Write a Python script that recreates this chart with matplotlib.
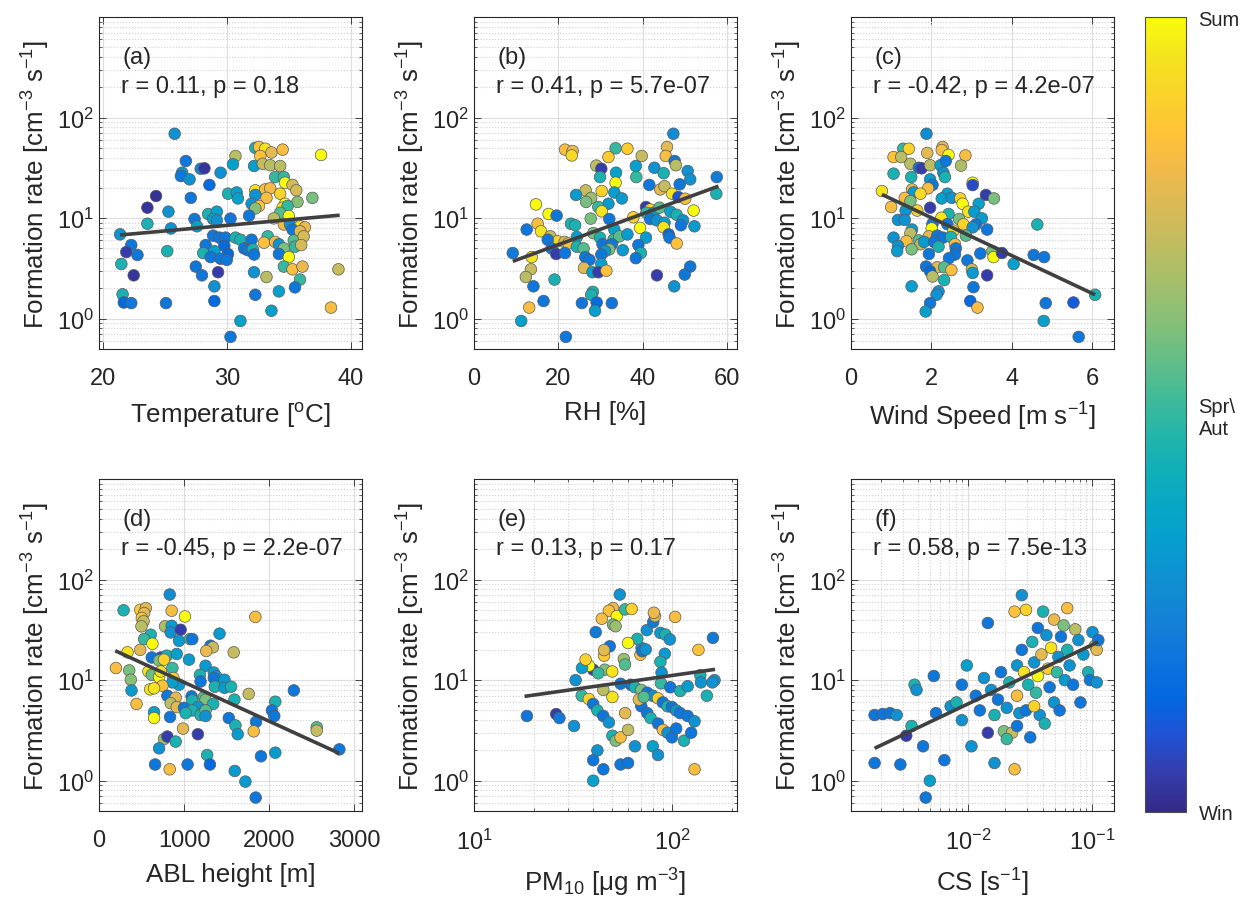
import numpy as np
import matplotlib
matplotlib.use('Agg')
import matplotlib.pyplot as plt
from matplotlib.colors import LinearSegmentedColormap, Normalize
from matplotlib.ticker import LogLocator, NullFormatter, FixedLocator
import matplotlib.cm as cm

plt.rcParams['font.family'] = ['Liberation Sans', 'DejaVu Sans']
plt.rcParams['mathtext.fontset'] = 'custom'
plt.rcParams['mathtext.rm'] = 'Liberation Sans'
plt.rcParams['mathtext.it'] = 'Liberation Sans:italic'
plt.rcParams['mathtext.default'] = 'regular'

# ---------------- data ----------------
# (a) Temperature
temp = [25.8,32.3,32.6,33.1,33.6,34.5,37.6,30.7,32.7,26.7,
        30.5,32.2,32.9,33.5,34.3,27.9,28.2,26.4,26.3,27.0,
        29.5,33.9,34.6,28.6,34.7,35.3,32.3,33.1,33.5,35.6,
        34.3,30.1,30.8,30.9,32.3,24.3,27.1,33.2,36.9,32.0,
        32.6,32.3,35.7,34.7,23.6,34.5,34.9,25.3,28.5,29.2,
        34.3,35.0,31.8,27.4,28.9,29.2,30.3,33.8,23.6,27.6,
        34.6,35.1,35.9,36.3,25.5,35.3,35.9,21.4,28.9,29.4,
        29.9,30.7,31.1,32.0,33.3,35.4,36.2,22.3,28.3,29.8,
        31.4,31.7,32.1,33.0,33.9,34.2,34.6,35.5,36.0,21.9,
        22.8,25.2,28.1,29.0,30.1,32.2,34.2,35.0,28.7,29.5,
        30.0,21.5,27.5,34.6,35.3,36.1,39.0,32.2,22.5,28.0,
        29.3,33.2,35.9,29.0,34.2,35.5,21.6,32.3,21.7,22.3,
        25.1,29.0,33.6,38.4,31.1,30.3]
J_temp = [69,50,51,49,45,48,42.5,41.5,41.5,37,
          34.3,33,34.7,33.6,33,31,31.3,28.3,26.2,24.3,
          28.3,25.6,25.6,21.4,22.5,21.4,18.9,19.3,19.8,18.9,
          17.5,17.5,18.0,15.7,17.0,16.6,15.9,15.9,15.9,13.9,
          13.2,12.5,14.5,13.9,12.7,12.7,13.2,11.6,11.0,11.6,
          11.3,10.5,10.6,9.8,9.8,9.5,9.9,9.95,8.8,8.3,
          8.65,8.65,8.3,8.1,7.9,7.7,7.4,6.9,6.7,6.4,
          6.4,6.4,6.1,6.1,6.6,6.0,6.6,5.4,5.4,5.3,
          5.0,4.8,4.9,5.7,5.8,5.5,5.0,5.2,5.4,4.6,
          4.3,4.7,4.5,4.7,4.4,4.35,4.4,4.1,4.1,3.95,
          3.85,3.5,3.3,3.3,3.1,3.3,3.1,2.9,2.7,2.7,
          2.9,2.6,2.45,2.1,1.87,2.05,1.75,1.73,1.45,1.43,
          1.43,1.5,1.2,1.29,0.95,0.66]
s_temp = [.3,.45,.85,.95,.78,.83,1,.7,.85,.2,
          .35,.35,.72,.7,.7,.25,.03,.3,.2,.3,
          .3,.5,.5,.15,1,.75,.95,.83,.82,.75,
          .9,.45,.35,.35,.3,.02,.2,.83,.6,.3,
          .85,.62,.62,1,.03,.95,.5,.3,.45,.35,
          .55,1,.2,.2,.35,.3,.2,.7,.45,.35,
          .82,.3,.95,.8,.3,.2,.78,.3,.2,.2,
          .2,.45,.45,.2,.5,.55,.75,.2,.2,.15,
          .2,.2,.45,.85,.82,.3,.6,.5,.75,.05,
          .2,.45,.45,.35,.15,.2,.2,1,.2,.2,
          .2,.45,.2,.5,.83,.8,.73,.3,.03,.2,
          .05,.7,.5,.3,.35,.2,.45,.2,.15,.2,
          .2,.15,.35,.83,.35,.2]

# (b) RH
rh = [47.3,21.6,23.4,23.2,33.6,36.4,45.8,31.9,39.8,45.5,
      47.6,47.9,29.0,30.2,38.4,42.8,45.0,50.7,51.3,57.6,
      33.7,29.9,38.5,33.6,41.6,48.8,44.2,45.2,47.0,48.5,
      50.1,57.5,26.5,30.3,33.3,24.2,27.8,26.6,35.1,31.9,
      14.7,29.5,30.3,17.7,19.6,27.7,32.1,37.8,40.8,41.8,
      40.9,42.6,44.0,46.6,48.1,52.1,41.8,43.4,45.2,49.6,
      49.1,52.3,45.0,39.4,23.0,24.0,12.5,15.1,15.9,33.3,
      28.3,18.1,19.8,21.5,22.4,17.5,24.4,29.9,33.1,34.5,
      36.4,40.8,46.2,46.4,48.1,30.5,32.7,9.2,18.4,19.5,
      21.6,24.4,26.0,32.1,31.1,30.2,35.3,39.0,39.6,38.4,
      13.7,26.4,27.4,30.2,13.5,12.3,26.1,28.1,29.5,31.4,
      19.1,51.3,50.0,43.4,47.5,14.1,28.2,27.8,16.5,25.6,
      29.1,32.7,13.1,28.7,11.2,21.8]
J_rh = [69,48,46.5,42,49.5,49,51,40.5,41.5,41.5,
        37,33.6,33.3,31,33,31.7,28,29.4,24.3,25.6,
        28.3,25.6,25.6,22.5,21.4,21.7,19.3,20.8,17.5,16.2,
        15.6,17.5,18.9,18.6,18.0,17.0,15.9,14.5,15.7,13.9,
        13.7,12.9,11.7,11.0,10.6,9.9,9.8,10.2,12.9,12.2,
        11.3,11.3,12.7,11.6,10.8,11.9,9.8,9.5,9.0,9.5,
        8.5,8.3,8.1,8.0,8.8,8.5,7.7,8.8,7.4,7.7,
        7.1,6.6,5.9,5.8,5.6,6.1,6.5,6.4,6.1,6.6,
        6.9,6.4,6.9,6.4,5.6,5.5,5.5,4.5,5.0,4.4,
        4.5,5.2,5.0,4.9,4.7,4.35,4.8,5.4,4.5,4.0,
        4.1,4.1,3.85,3.5,3.1,2.6,3.2,2.9,2.9,3.0,
        2.45,3.3,2.75,2.7,2.1,2.1,1.85,1.73,1.5,1.43,
        1.45,1.43,1.29,1.2,0.95,0.66]
s_rh = [.28,.83,.8,.92,.5,.88,.78,.88,.72,.83,
        .2,.7,.7,.05,.35,.3,.45,.3,.3,.22,
        .35,.45,.5,1,.2,.2,.78,.72,.95,.1,
        .83,.45,.72,.9,.35,.33,.65,.6,.33,.33,
        1,.5,.95,1,.2,.6,.2,.9,.05,.9,
        .5,.33,.55,.35,.45,1,.2,.3,.35,.3,
        .2,.33,.95,1,.45,.45,.2,.83,.95,.35,
        .6,.72,.9,.75,.83,.2,.35,.45,.5,.55,
        .33,.33,.15,.2,.85,.2,.2,.22,.2,.05,
        .2,.45,.55,.6,.33,.2,.33,.2,.45,.2,
        .95,.2,.2,.35,.72,.7,.78,.35,.05,.85,
        .45,.2,.2,.05,.3,.2,.45,.45,.2,.2,
        .15,.2,.83,.35,.35,.2]

# (c) Wind speed
ws = [1.88,1.30,1.44,1.06,1.25,1.90,2.28,2.26,2.43,2.85,
      1.48,1.69,1.76,1.97,2.23,2.36,2.74,1.06,1.50,2.30,
      2.34,1.97,2.03,3.03,3.03,0.77,1.52,1.92,1.56,1.73,
      1.34,1.48,2.40,2.26,2.51,2.72,3.36,3.56,1.0,1.36,
      1.65,1.97,2.78,2.92,3.18,3.07,2.43,2.69,3.26,1.17,
      1.34,2.25,2.03,2.40,2.80,3.11,1.52,2.01,2.55,3.03,
      3.39,4.64,1.48,1.94,2.15,2.29,2.49,2.86,1.06,1.38,
      1.69,1.73,1.82,2.07,2.18,2.59,2.61,1.17,1.15,1.51,
      1.94,2.59,2.44,3.22,3.52,3.55,3.76,2.90,4.05,4.55,
      4.81,1.87,2.15,2.32,2.50,1.97,2.03,3.01,3.03,3.39,
      2.32,1.51,2.18,2.13,3.05,6.08,1.97,2.97,3.15,1.86,
      4.85,5.54,4.80,5.67]
J_ws = [69,49,49,40.5,40.5,44.5,51,47.5,42.5,42,
        34.7,31.7,31.3,33.6,33.6,37,33.3,27.7,25.6,28.3,
        25.6,24.3,21.4,22.5,21.3,18.6,19.3,19.8,18.0,17.5,
        15.9,14.8,17.5,15.7,15.9,15.7,17.0,15.7,12.9,11.9,
        11.9,12.7,13.9,11.6,13.9,11.6,11.0,9.8,9.95,9.6,
        9.6,10.1,8.8,8.7,8.7,8.65,7.7,7.9,7.5,8.1,
        7.7,8.65,7.1,6.6,6.7,6.4,6.5,6.7,6.4,5.9,
        6.0,5.5,5.8,5.8,5.2,5.5,5.0,5.3,4.7,4.9,
        4.4,4.35,4.0,4.45,4.7,4.1,4.5,3.8,3.5,4.3,
        4.1,3.3,3.25,3.25,3.05,2.96,2.63,3.1,2.85,2.7,
        2.42,2.1,1.87,1.73,2.06,1.73,1.43,1.5,1.29,1.18,
        1.43,1.45,0.95,0.66]
s_ws = [.28,.5,.9,.85,.7,.78,.78,.83,1,.83,
        .7,.2,.05,.7,.35,.2,.68,.45,.45,.3,
        .45,.33,.2,1,.08,.95,.78,.83,.33,.92,
        .83,.6,.35,.35,.3,.9,.05,.6,.83,.3,
        .9,.05,1,.95,.35,.33,.45,.6,.33,.3,
        .3,.95,.2,.2,.9,.2,.33,1,.95,.3,
        .2,.45,.7,.78,.2,.2,.45,.55,.3,.83,
        .55,.72,.33,.2,.45,.83,.2,.3,.33,.6,
        .2,.2,.2,.2,.6,1,.05,.2,.35,.2,
        .2,.2,.78,.55,.83,.15,.7,.72,.33,.05,
        .45,.35,.3,.3,.2,.45,.2,.15,.83,.35,
        .2,.12,.35,.2]

# (d) ABL height
abl = [831,289,484,550,530,503,523,499,854,1010,
       1837,776,854,842,959,1416,608,530,628,940,
       1069,1096,1310,1338,335,484,1260,1583,725,796,
       913,620,706,764,1057,199,355,581,620,862,
       1252,706,725,374,874,1186,1349,1377,1349,1474,
       1193,940,862,745,1361,1474,1552,382,601,647,
       2289,1759,441,803,901,842,913,1088,1096,1232,
       1252,1342,998,1166,1096,1018,1193,1252,1252,1591,
       2071,2032,2059,647,647,835,1525,1603,1630,1845,
       1818,987,764,803,901,1162,2558,2558,706,1271,
       1903,2071,2824,659,831,1041,1303,1595,1720,1841]
J_abl = [71,49.5,50,52,46.5,41.5,38.5,34.3,49,43,
         42.5,34.3,34.7,29.8,31.7,29,28.3,25.6,23,24.6,
         25.6,25.6,22,21.2,18.9,20,19.5,18.9,16.8,17.5,
         18.2,16.8,15.7,16,16,13.2,12.5,12.2,11.3,13.2,
         13.9,10.7,12.2,10.1,10.5,11.3,11.9,10.9,10.5,10.1,
         9.7,9.0,9.5,8.8,8.6,8.4,8.6,7.9,8.1,8.3,
         7.9,7.3,5.8,7.0,6.7,5.9,5.4,6.9,6.3,6.8,
         6.4,5.8,5.3,5.4,5.0,4.7,4.5,5.0,4.4,6.4,
         6.1,5.0,4.4,4.8,4.2,4.3,4.2,3.55,2.9,3.85,
         3.1,3.3,2.6,2.75,2.45,2.9,3.4,3.15,2.1,1.8,
         1.75,1.9,2.05,1.45,1.3,1.45,1.45,1.25,0.98,0.68]
s_abl = [.28,.45,.88,.78,.78,.85,.72,.7,.83,1,
         .83,.68,.33,.3,.05,.33,.45,.5,1,.33,
         .5,.2,.2,.72,.95,.78,.8,.72,.1,.45,
         .35,.2,.6,.9,.33,.83,.6,.95,.58,.5,
         .33,1,.95,.62,.9,.45,.33,.33,.2,.33,
         .2,.33,.35,.85,.45,.33,.45,.33,.95,.95,
         .2,.72,.83,.2,.78,.7,.78,.2,.45,.55,
         .6,.45,.2,.33,.45,.45,.45,.55,.3,.45,
         .45,.2,.2,.35,1,.2,.2,.45,.33,.2,
         .83,.78,.65,.05,.45,.05,.55,.72,.3,.45,
         .2,.33,.2,.2,.83,.2,.15,.33,.33,.2]

# (e) PM10
pm10 = [54.5,50.4,48,44.2,52.6,57.9,62.6,50.4,51.9,41.2,
        48.5,45.4,45.4,40,38.1,45.8,49.9,57.1,57.9,69.3,
        70.2,70.8,73.7,66.8,74.6,80.4,82.1,81,87.4,92.6,
        97.6,103.7,92,87.4,88.6,32.6,42.4,35.1,36.6,60,
        161,136,164,139,
        18.5,26,27,32,35,38,40,42,45,48,
        50,52,55,42,40,45,40,55,60,62,
        65,70,75,80,85,90,95,100,105,110,
        120,130,70,75,78,85,90,95,100,105,
        115,125,130,80,85,60,65,68,72,88,
        98,110,120,140,150,160,58,50,45,55]
J_pm10 = [71,52,49,40.8,43.3,50.5,51,35.7,34.4,30,
          21.7,17.5,19.9,12.7,13.9,12.7,12.2,16.2,14.3,17.9,
          20.9,19.4,20.2,25.7,31.4,37.8,43.3,46.8,29.5,28.4,
          25.4,42.5,18.3,15.2,11.9,10,11.7,13.2,16,23.4,
          26.3,20,10,11.2,
          4.4,4.6,4.2,3.5,7,6.5,5.8,5,4.4,3.8,
          2.8,2.5,2.7,2.0,1.6,1.3,1.0,1.45,1.5,9,
          8.5,8,7.5,7,6.6,6,5.5,5.4,5,4.7,
          4.4,3.9,5.5,4.7,4.2,3.7,3.2,3.0,2.7,3.3,
          2.5,3.0,1.3,2.2,1.8,3.2,2.2,6.4,6.8,9.3,
          8.5,7.8,8.7,9.5,7,9.5,4.7,6.8,8,9.2]
s_pm10 = [.3,.8,.85,.83,1,.5,.9,.6,.65,.22,
          .2,.88,.78,.05,1,.6,.95,.65,.55,.85,
          .33,.2,.3,.45,.3,.22,.75,.8,.33,.45,
          .3,.83,.33,.45,.3,.3,.5,.35,.9,1,
          .22,.85,.3,.45,
          .2,.05,.2,.3,.5,.9,.2,.45,.2,.3,
          .45,.6,.83,.3,.2,.2,.35,.2,.2,.2,
          .45,.6,.2,.3,.9,.2,.45,.2,.3,.2,
          .2,.3,.2,.2,.45,.2,.83,.3,.2,.2,
          .45,.2,.83,.35,.3,.72,.3,.78,.55,.5,
          .2,.45,.33,.3,.45,.3,.78,.95,.7,.2]

# (f) CS
cs = [0.00178,0.00207,0.00237,0.00268,0.00178,0.00287,0.0032,0.00353,0.00373,0.00387,
      0.00437,0.00459,0.00495,0.00533,0.00555,0.00648,0.00728,0.00811,0.00896,0.00896,
      0.00982,0.0107,0.0116,0.0125,0.0135,0.0145,0.0145,0.0154,0.0164,0.0175,
      0.0185,0.0195,0.0206,0.0216,0.0227,0.0238,0.0238,0.0249,0.0249,0.026,
      0.0272,0.0272,0.0283,0.0294,0.0294,0.0306,0.0318,0.033,0.0342,0.0354,
      0.0366,0.0366,0.0379,0.0391,0.0403,0.0416,0.0429,0.0442,0.0455,0.0468,
      0.0494,0.0494,0.0521,0.0535,0.0548,0.0562,0.059,0.0603,0.0631,0.0631,
      0.0659,0.0703,0.0732,0.0776,0.0806,0.0851,0.0929,0.0961,0.1007,0.1055,
      0.109,0.109,0.1122,0.0342,0.0206,0.0249,0.0164]
J_cs = [4.5,4.6,4.7,4.5,1.5,1.45,2.8,3.5,9,8,
        2.2,0.68,1.0,11,4.7,1.6,5.5,6,9,4,
        14,2.2,7,5,10.5,37,3,8,4.5,6.4,
        12,3.1,5.3,9.5,3.0,48,1.3,14,7,4.7,
        70,20,12,50,5,9,2.7,24,15,7.5,
        33,11,4.5,18,48,3.7,28,13,8.5,21,
        40,6,12,17,5,27,35,10,52,20,
        14,9,32,25,6,18,12,10,30,22,
        20,9.5,25,5.5,2.6,3.5,1.5]
s_cs = [.2,.2,.2,.3,.2,.2,.05,.45,.45,.3,
        .2,.2,.35,.2,.2,.2,.3,.45,.2,.3,
        .35,.3,.2,.2,.3,.2,.05,.3,.45,.2,
        .2,.6,.3,.45,.72,.85,.83,.3,.83,.3,
        .3,.2,.95,.9,.2,.45,.2,.45,.3,.5,
        .2,1,.3,.78,.45,.45,.3,.9,.2,.95,
        .8,.3,.5,.3,.2,.2,.6,.33,.83,.45,
        .3,.2,.7,.3,.2,.33,.45,.2,.3,.7,
        .78,.3,.2,.9,.5,.2,.3]

# regression lines (x endpoints, J endpoints)
trend_temp = ([21.4, 39.1], [6.8, 10.7])
trend_rh = ([9.2, 58.0], [3.72, 20.8])
trend_ws = ([0.77, 6.08], [17.2, 1.73])
trend_abl = ([191, 2824], [19.6, 1.87])
trend_pm10 = ([18, 165], [6.9, 12.8])
trend_cs = ([0.00178, 0.112], [2.1, 24])

stats = ['r = 0.11, p = 0.18', 'r = 0.41, p = 5.7e-07', 'r = -0.42, p = 4.2e-07',
         'r = -0.45, p = 2.2e-07', 'r = 0.13, p = 0.17', 'r = 0.58, p = 7.5e-13']
panel_tags = ['(a)', '(b)', '(c)', '(d)', '(e)', '(f)']
xlabels = ['Temperature [$^{o}$C]', 'RH [%]', 'Wind Speed [m s$^{-1}$]',
           'ABL height [m]', 'PM$_{10}$ [$\\mu$g m$^{-3}$]', 'CS [s$^{-1}$]']
cbar_labels = ['Win', 'Spr\\\nAut', 'Sum']
cbar_ticks = [0.0, 0.5, 1.0]

# ---------------- colormap (parula) ----------------
parula_pts = [(0.2081,0.1663,0.5292),(0.2081,0.2386,0.6771),(0.1253,0.3242,0.8303),
              (0.0060,0.4086,0.8828),(0.0498,0.4586,0.8641),(0.0779,0.5040,0.8384),
              (0.0641,0.5570,0.8240),(0.0265,0.6137,0.8135),(0.0228,0.6535,0.7768),
              (0.0590,0.6838,0.7254),(0.1453,0.7098,0.6646),(0.2586,0.7317,0.5954),
              (0.3953,0.7459,0.5244),(0.5300,0.7491,0.4661),(0.6473,0.7456,0.4188),
              (0.7525,0.7384,0.3768),(0.8507,0.7299,0.3360),(0.9450,0.7261,0.2886),
              (0.9990,0.7653,0.2164),(0.9789,0.8271,0.1633),(0.9589,0.8949,0.1132),
              (0.9763,0.9831,0.0538)]
parula = LinearSegmentedColormap.from_list('parula', parula_pts, N=256)
norm = Normalize(0, 1)

# ---------------- figure ----------------
W, H = 1241, 904
fig = plt.figure(figsize=(W/100, H/100), dpi=100)

col_left = [99, 474, 851]
ax_w = 263
row_top = [18, 480]
ax_h = 332

panels = [
    (temp, J_temp, s_temp, trend_temp, 'linear', (19.7, 40.9), [20, 30, 40], ['20', '30', '40']),
    (rh, J_rh, s_rh, trend_rh, 'linear', (0, 62.4), [0, 20, 40, 60], ['0', '20', '40', '60']),
    (ws, J_ws, s_ws, trend_ws, 'linear', (0, 6.55), [0, 2, 4, 6], ['0', '2', '4', '6']),
    (abl, J_abl, s_abl, trend_abl, 'linear', (0, 3090), [0, 1000, 2000, 3000], ['0', '1000', '2000', '3000']),
    (pm10, J_pm10, s_pm10, trend_pm10, 'log', (10, 213), [10, 100], ['$10^{1}$', '$10^{2}$']),
    (cs, J_cs, s_cs, trend_cs, 'log', (0.00115, 0.15), [0.01, 0.1], ['$10^{-2}$', '$10^{-1}$']),
]

axcol = '0.15'
for i, (xv, jv, sv, tr, xscale, xlim, xt, xtl) in enumerate(panels):
    r, c = divmod(i, 3)
    left = col_left[c] / W
    bottom = 1 - (row_top[r] + ax_h) / H
    ax = fig.add_axes([left, bottom, ax_w / W, ax_h / H])
    ax.set_xscale(xscale)
    ax.set_yscale('log')
    ax.set_xlim(*xlim)
    ax.set_ylim(0.5, 1000)
    ax.set_axisbelow(True)
    ax.yaxis.set_major_locator(FixedLocator([1, 10, 100]))
    ax.yaxis.set_minor_locator(LogLocator(base=10, subs=np.arange(2, 10)))
    ax.yaxis.set_minor_formatter(NullFormatter())
    ax.set_xticks(xt)
    ax.set_xticklabels(xtl)
    if xscale == 'log':
        ax.xaxis.set_minor_locator(LogLocator(base=10, subs=np.arange(2, 10)))
        ax.xaxis.set_minor_formatter(NullFormatter())
        ax.grid(True, which='minor', axis='x', color='0.82', ls=':', lw=0.8)
    ax.grid(True, which='major', color='0.87', ls='-', lw=0.8)
    ax.grid(True, which='minor', axis='y', color='0.82', ls=':', lw=0.8)
    ax.tick_params(which='both', direction='in', top=True, right=True,
                   colors=axcol, labelcolor='0.15', labelsize=17)
    ax.tick_params(which='major', length=5, width=0.6)
    ax.tick_params(which='minor', length=2.5, width=0.5)
    ax.tick_params(axis='x', pad=13)
    for sp in ax.spines.values():
        sp.set_color(axcol)
        sp.set_linewidth(0.8)

    ax.scatter(xv, jv, c=sv, cmap=parula, norm=norm, s=70,
               edgecolors='0.35', linewidths=0.5, zorder=3)
    ax.plot(tr[0], tr[1], color='0.25', lw=2.6, zorder=4, solid_capstyle='butt')

    ax.text(0.09, 0.88, panel_tags[i], transform=ax.transAxes, fontsize=17,
            va='center', ha='left', color='0.15')
    ax.text(0.083, 0.792, stats[i], transform=ax.transAxes, fontsize=17,
            va='center', ha='left', color='0.15')
    ax.set_xlabel(xlabels[i], fontsize=18.7, color='0.15', labelpad=8)
    ax.set_ylabel('Formation rate [cm$^{-3}$ s$^{-1}$]', fontsize=18.7,
                  color='0.15', labelpad=4)

# colorbar
cax = fig.add_axes([1145 / W, 1 - 813 / H, 41 / W, (813 - 18) / H])
cb = fig.colorbar(cm.ScalarMappable(norm=norm, cmap=parula), cax=cax)
cb.set_ticks(cbar_ticks)
cb.set_ticklabels(cbar_labels)
cb.ax.tick_params(length=0, labelsize=14.5, colors='0.15', pad=9)
cb.outline.set_edgecolor('0.3')
cb.outline.set_linewidth(0.8)

fig.savefig('out.png', dpi=100)
